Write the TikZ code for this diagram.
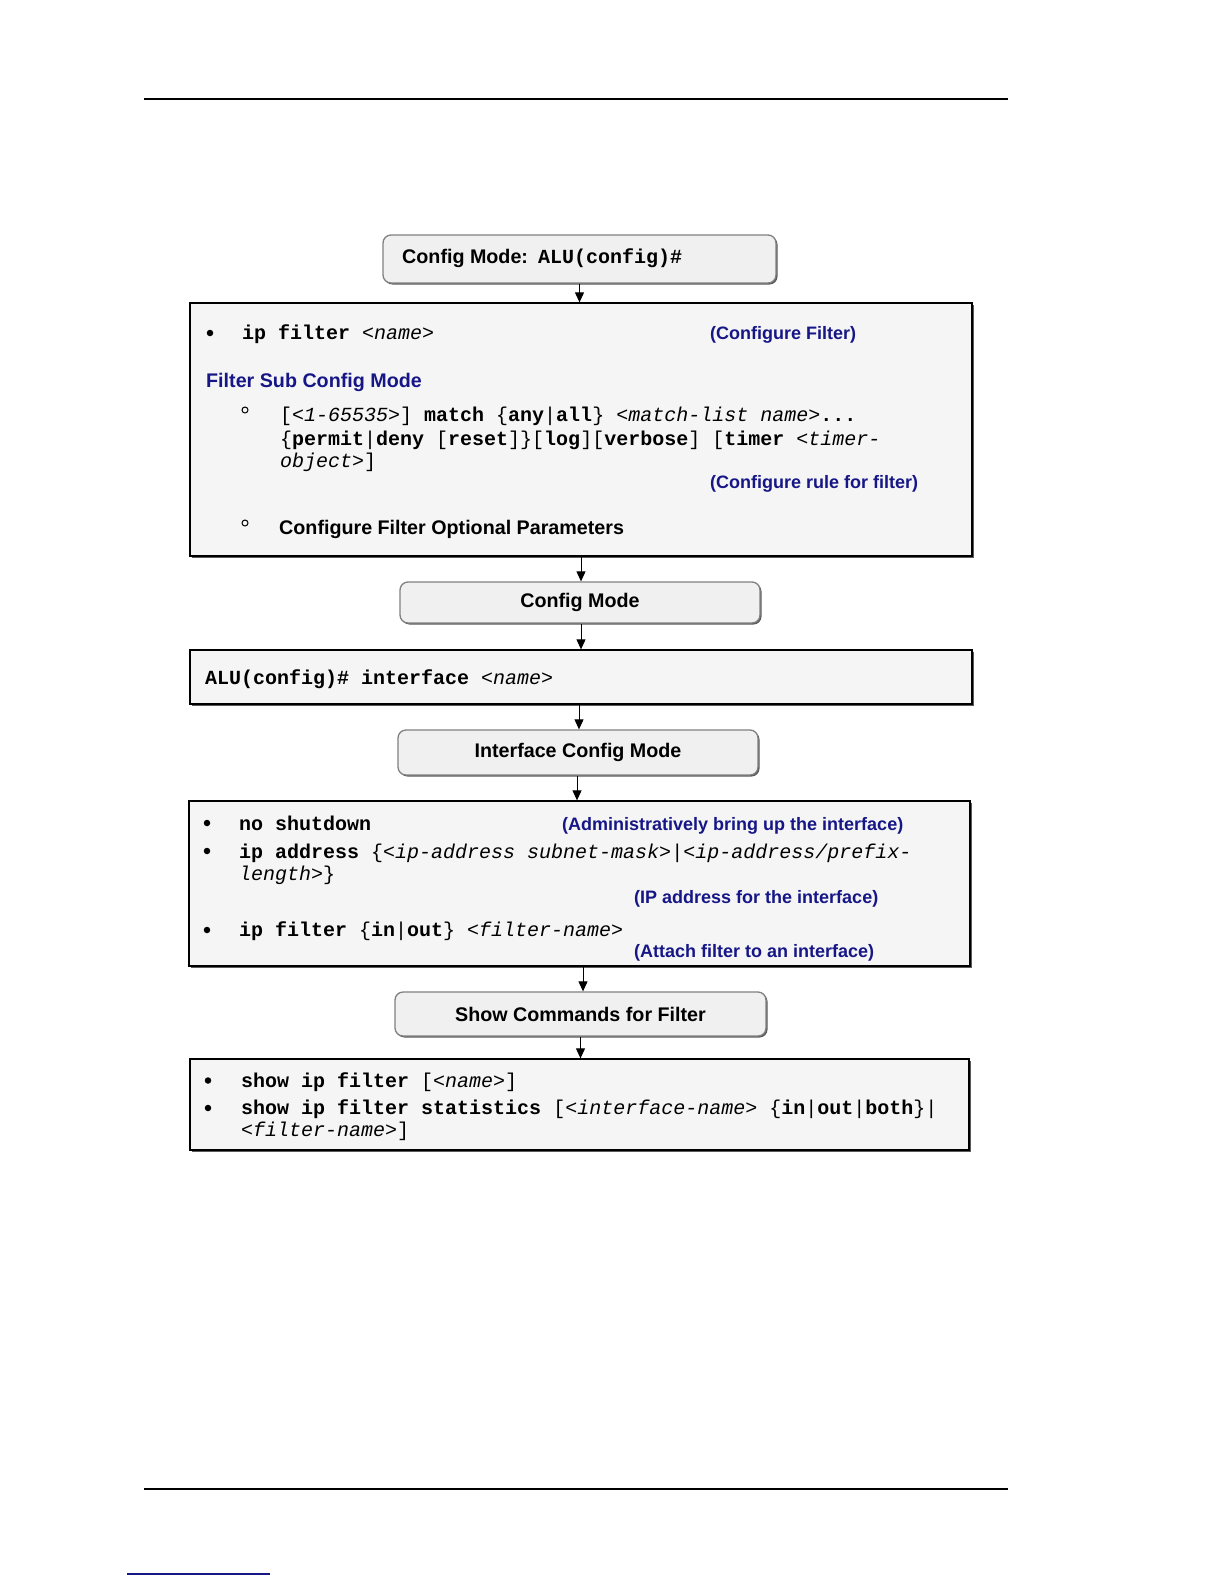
\documentclass[tikz,border=0pt]{standalone}
\usepackage{fontspec}
\setmainfont{Liberation Sans}
\setsansfont{Liberation Sans}
\setmonofont{Liberation Mono}
\usetikzlibrary{arrows.meta,shadows}
\definecolor{lblue}{RGB}{22,22,135}
\definecolor{rfill}{RGB}{245,245,245}
\definecolor{bfill}{RGB}{240,240,240}
\definecolor{shad}{RGB}{90,90,90}
\newcommand{\kw}[1]{\textbf{#1}}
\newcommand{\ph}[1]{\textit{#1}}
\begin{document}
\begin{tikzpicture}[x=1pt,y=-1pt,
  sq/.style={draw=black, line width=1.3pt, fill=rfill, inner sep=0pt,
    drop shadow={shadow xshift=1.5pt,shadow yshift=-1.5pt,fill=shad,opacity=1}},
  rd/.style={draw=black!50, line width=1.3pt, rounded corners=8pt, fill=bfill, inner sep=0pt,
    drop shadow={shadow xshift=1.5pt,shadow yshift=-1.5pt,fill=shad,opacity=1}},
  arr/.style={-{Triangle[length=10pt,width=9pt]}, line width=1pt},
  mono/.style={anchor=base west, inner sep=0pt, font=\ttfamily\fontsize{20}{24}\selectfont},
  head/.style={inner sep=0pt, font=\sffamily\bfseries\fontsize{19.7}{24}\selectfont},
  lab/.style={anchor=base west, inner sep=0pt, text=lblue, font=\sffamily\bfseries\fontsize{18}{22}\selectfont},
  bul/.style={circle, fill=black, inner sep=0pt, minimum size=6.5pt},
  ring/.style={circle, draw=black, line width=1pt, inner sep=0pt, minimum size=6pt},
]
\useasboundingbox (0,0) rectangle (1224,1584);
\fill[white] (0,0) rectangle (1224,1584);
% page rules
\draw[line width=1.2pt] (144,99) -- (1008,99);
\draw[line width=1.2pt] (144,1489) -- (1008,1489);
\draw[line width=1.2pt, draw=lblue] (127,1574) -- (270,1574);

% box 1
\node[rd, minimum width=393pt, minimum height=48pt] (b1) at (579.5,259) {};
\node[head, anchor=base west] (t1a) at (402,263) {Config Mode:};
\node[mono, font=\ttfamily\bfseries\fontsize{20}{24}\selectfont] (t1b) at (538,263) {ALU(config)\#};

% box 2
\node[sq, minimum width=782pt, minimum height=253pt] (b2) at (581,429.5) {};
\node[bul] (u21) at (210,333) {};
\node[mono] (t21) at (242,339) {\kw{ip filter} \ph{<name>}};
\node[lab] (l21) at (710,339) {(Configure Filter)};
\node[head, anchor=base west, text=lblue] (h2) at (206,387) {Filter Sub Config Mode};
\node[ring] (r21) at (245,410) {};
\node[mono] (t22) at (280,421) {[\ph{<1-65535>}] \kw{match} \{\kw{any}|\kw{all}\} \ph{<match-list name>}\kw{...}};
\node[mono] (t23) at (280,445) {\{\kw{permit}|\kw{deny} [\kw{reset}]\}[\kw{log}][\kw{verbose}] [\kw{timer} \ph{<timer-}};
\node[mono] (t24) at (280,467) {\ph{object>}]};
\node[lab] (l22) at (710,488) {(Configure rule for filter)};
\node[ring] (r22) at (245,523) {};
\node[head, anchor=base west] (t25) at (279,534) {Configure Filter Optional Parameters};

% box 3
\node[rd, minimum width=360pt, minimum height=41pt] (b3) at (580,602.5) {};
\node[head] (t3) at (b3.center) {Config Mode};

% box 4
\node[sq, minimum width=782pt, minimum height=54pt] (b4) at (581,677) {};
\node[mono] (t4) at (205,684) {\kw{ALU(config)\# interface} \ph{<name>}};

% box 5
\node[rd, minimum width=360pt, minimum height=45pt] (b5) at (578,752.5) {};
\node[head] (t5) at (b5.center) {Interface Config Mode};

% box 6
\node[sq, minimum width=781pt, minimum height=165pt] (b6) at (579.5,883.5) {};
\node[bul] (u61) at (207,823) {};
\node[mono] (t61) at (239,830) {\kw{no shutdown}};
\node[lab] (l61) at (562,830) {(Administratively bring up the interface)};
\node[bul] (u62) at (207,851) {};
\node[mono] (t62) at (239,858) {\kw{ip address} \{\ph{<ip-address subnet-mask>}|\ph{<ip-address/prefix-}};
\node[mono] (t63) at (239,880) {\ph{length>}\}};
\node[lab] (l62) at (634,903.5) {(IP address for the interface)};
\node[bul] (u63) at (207,930) {};
\node[mono] (t64) at (239,936) {\kw{ip filter} \{\kw{in}|\kw{out}\} \ph{<filter-name>}};
\node[lab] (l63) at (634,957) {(Attach filter to an interface)};

% box 7
\node[rd, minimum width=371pt, minimum height=44pt] (b7) at (580.5,1014) {};
\node[head] (t7) at (b7.center) {Show Commands for Filter};

% box 8
\node[sq, minimum width=779pt, minimum height=91pt] (b8) at (579.5,1104.5) {};
\node[bul] (u81) at (208,1080.5) {};
\node[mono] (t81) at (241,1087) {\kw{show ip filter} [\ph{<name>}]};
\node[bul] (u82) at (208,1108) {};
\node[mono] (t82) at (241,1114) {\kw{show ip filter statistics} [\ph{<interface-name>} \{\kw{in}|\kw{out}|\kw{both}\}|};
\node[mono] (t83) at (241,1136) {\ph{<filter-name>}]};

% connectors
\draw[arr] (b1.south) -- (b1.south |- b2.north);
\draw[arr] (b2.south) -- (b2.south |- b3.north);
\draw[arr] ([xshift=1pt]b3.south) -- ([xshift=1pt]b3.south |- b4.north);
\draw[arr] ([xshift=-2pt]b4.south) -- ([xshift=-2pt]b4.south |- b5.north);
\draw[arr] ([xshift=-1pt]b5.south) -- ([xshift=-1pt]b5.south |- b6.north);
\draw[arr] ([xshift=3.5pt]b6.south) -- ([xshift=3.5pt]b6.south |- b7.north);
\draw[arr] (b7.south) -- (b7.south |- b8.north);
\end{tikzpicture}
\end{document}
